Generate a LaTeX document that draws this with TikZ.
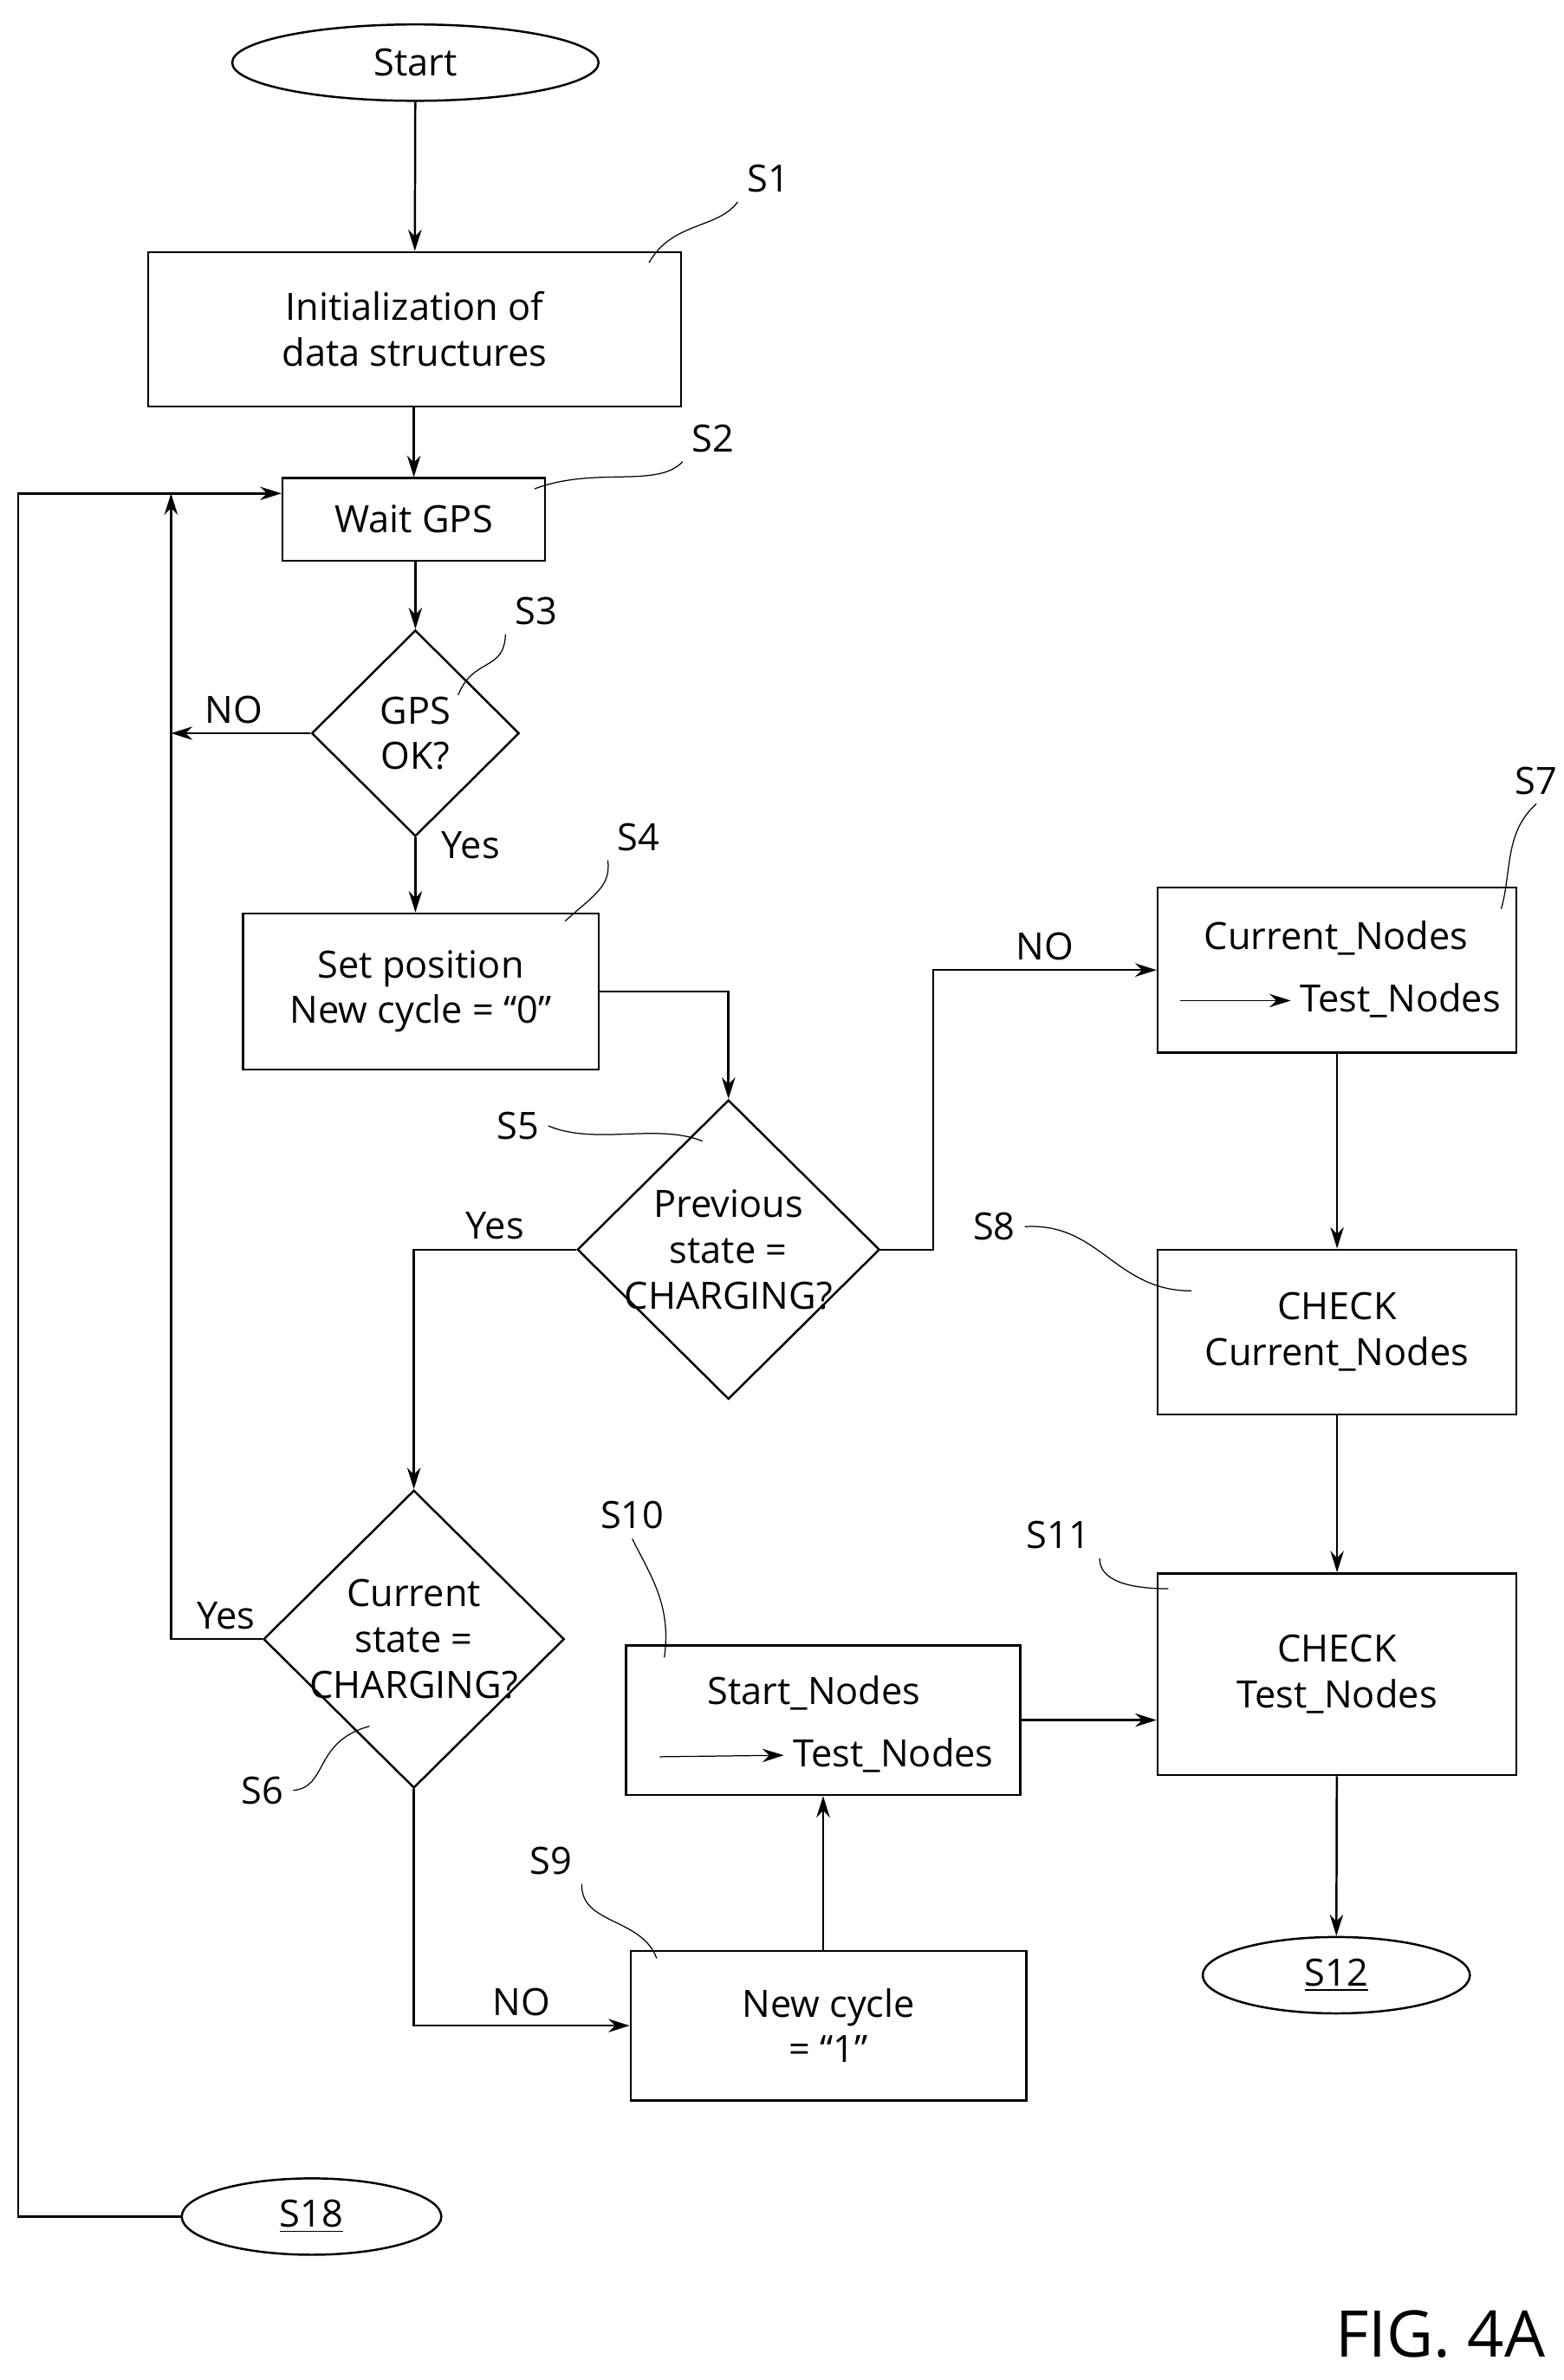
\documentclass[tikz,border=0pt]{standalone}
\usepackage{fontspec}
\setmainfont{Open Sans}
\usetikzlibrary{shapes.geometric,arrows.meta,positioning}
\tikzset{
  box/.style={draw,thick,minimum width=#1,align=center,inner sep=0pt},
  dec/.style={draw,thick,diamond,inner sep=0pt},
  term/.style={draw,thick,ellipse,minimum height=1cm,inner sep=0pt},
  flow/.style={thick,-{Stealth[length=8pt,width=5pt]}},
  lead/.style={thin},
  every node/.style={font=\fontsize{14}{17}\selectfont}
}
\begin{document}
\begin{tikzpicture}[x=0.02cm,y=-0.02cm]
\useasboundingbox (0,0) rectangle (1024,1558);
% terminals
\node[term,minimum width=4.8cm] (start) at (272,41) {Start};
\node[term,minimum width=3.5cm] (s12) at (875,1293) {\underline{S12}};
\node[term,minimum width=3.4cm] (s18) at (204,1451) {\underline{S18}};
% boxes
\node[box=6.98cm,minimum height=2.02cm] (s1) at (271.5,215.5) {Initialization of\\data structures};
\node[box=3.44cm,minimum height=1.08cm] (s2) at (271,340) {Wait GPS};
\node[box=4.66cm,minimum height=2.04cm] (s4) at (275.5,649) {Set position\\New cycle = ``0''};
\node[box=4.7cm,minimum height=2.16cm] (s7) at (875.5,635) {};
\node[box=4.7cm,minimum height=2.16cm] (s8) at (875.5,872) {CHECK\\Current\_Nodes};
\node[box=5.16cm,minimum height=1.96cm] (s10) at (539,1126) {};
\node[box=5.18cm,minimum height=1.96cm] (s9) at (542.5,1326) {New cycle\\= ``1''};
\node[box=4.7cm,minimum height=2.64cm] (s11) at (875.5,1096) {CHECK\\Test\_Nodes};
% decisions
\node[dec,minimum width=2.72cm,minimum height=2.7cm] (s3) at (272,480) {};
\node[align=center] at (s3) {GPS\\OK?};
\node[dec,minimum width=3.96cm,minimum height=3.92cm] (s5) at (477,818) {};
\node[align=center] at (s5) {Previous\\state =\\CHARGING?};
\node[dec,minimum width=3.94cm,minimum height=3.9cm] (s6) at (271,1073) {};
\node[align=center] at (s6) {Current\\state =\\CHARGING?};
% box contents with arrows
\node (s7a) at (875,614) {Current\_Nodes};
\node (s7b) at (917,655) {Test\_Nodes};
\coordinate (s7c) at (773,655);
\draw[flow,thin] (s7c) -- (s7b.west);
\node (s10a) at (533,1108) {Start\_Nodes};
\node (s10b) at (585,1149) {Test\_Nodes};
\coordinate (s10c) at (432,1150);
\draw[flow,thin] (s10c) -- (s10b.west);
% main flow
\draw[flow] (start) -- (s1);
\draw[flow] (s1.south -| s2) -- (s2);
\draw[flow] (s2.south -| s3) -- (s3);
\draw[flow] (s3) -- (s4.north -| s3) node[pos=0.1,right=6pt] {Yes};
\draw[flow] (s4.east) -| (s5.north);
\draw[flow] (s5.east) -- (611,818) |- (s7.west) node[pos=0.75,above] {NO};
\draw[flow] (s5.west) -| (s6.north) node[pos=0.25,above] {Yes};
\draw[flow] (s7) -- (s8);
\draw[flow] (s8) -- (s11);
\draw[flow] (s11) -- (s12);
\draw[flow] (s6.south) |- (s9.west) node[pos=0.75,above] {NO};
\draw[flow] (s9.north -| s10) -- (s10.south -| s10);
\draw[flow] (s10.east) -- (s11.west |- s10.east);
% loop back
\coordinate (j1) at (112,323);
\draw[flow] (s3.west) -- (112,480) node[pos=0.55,above] {NO};
\draw[flow] (s6.west) -- (112,1073) node[pos=0.4,above] {Yes} -- (j1);
\draw[flow] (s18.west) -- (12,1451) -- (12,323) -- (s2.west |- j1);
% step labels
\node (l1) at (503,117) {S1};
\draw[lead] (425,172) .. controls (440,145) and (470,150) .. (l1.south west);
\node (l2) at (467,287) {S2};
\draw[lead] (350,320) .. controls (390,305) and (430,320) .. (l2.south west);
\node (l3) at (351,400) {S3};
\draw[lead] (300,455) .. controls (310,430) and (330,440) .. (l3.south west);
\node (l4) at (418,548) {S4};
\draw[lead] (370,603) .. controls (390,585) and (400,580) .. (l4.south west);
\node (l5) at (339,737) {S5};
\draw[lead] (l5.east) .. controls (390,750) and (430,735) .. (460,747);
\node (l7) at (1006,511) {S7};
\draw[lead] (983,595) .. controls (990,570) and (985,545) .. (l7.south);
\node (l8) at (651,803) {S8};
\draw[lead] (l8.east) .. controls (720,800) and (730,845) .. (780,845);
\node (l10) at (414,992) {S10};
\draw[lead] (l10.south) .. controls (425,1030) and (440,1050) .. (435,1085);
\node (l11) at (693,1005) {S11};
\draw[lead] (l11.south east) .. controls (720,1035) and (740,1040) .. (765,1040);
\node (l6) at (172,1172) {S6};
\draw[lead] (l6.east) .. controls (215,1170) and (205,1140) .. (242,1130);
\node (l9) at (361,1218) {S9};
\draw[lead] (l9.south east) .. controls (380,1260) and (420,1255) .. (430,1282);
\node[font=\fontsize{24}{28}\selectfont,anchor=east] (fig) at (1018,1528) {FIG. 4A};
\end{tikzpicture}
\end{document}
